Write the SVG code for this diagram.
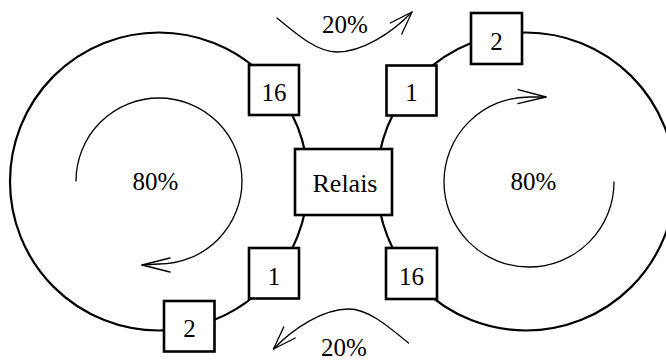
<svg xmlns="http://www.w3.org/2000/svg" xmlns:xlink="http://www.w3.org/1999/xlink" width="666" height="360" viewBox="0 0 666 360" font-family="'Liberation Serif', 'DejaVu Serif', 'Times New Roman', serif">
  <style>
    .ring { fill: none; stroke: #000; stroke-width: 2.2; }
    .flow { fill: none; stroke: #000; stroke-width: 1.3; stroke-linecap: round; stroke-linejoin: round; }
    .box { fill: #fff; stroke: #000; stroke-width: 2.6; }
    text { font-family: 'Liberation Serif', 'DejaVu Serif', 'Times New Roman', serif; font-size: 25px; fill: #000; text-anchor: middle; }
    text.big { font-size: 26px; }
  </style>
  <defs>
    <!-- open arrowheads, tip at the origin, pointing along +x -->
    <path id="head" class="flow" d="M-23,-8 L0,0 L-23,8"/>
    <path id="headLoop" class="flow" d="M-28,-7 L0,0 L-28,7"/>
  </defs>

  <!-- the two rings joining the stations -->
  <g id="connectors">
    <circle class="ring" cx="159" cy="181.5" r="149"/>
    <circle class="ring" cx="526" cy="181.5" r="149"/>
  </g>

  <!-- circulating shares inside each ring and the exchange between rings -->
  <g id="flows">
    <path class="flow" d="M76,181 A83,83 0 1 1 159,264 L142,265"/>
    <use xlink:href="#headLoop" transform="translate(142,265) rotate(180)"/>
    <text x="155.5" y="190">80%</text>

    <path class="flow" d="M614,182 A85,85 0 1 1 529,97 L546,97"/>
    <use xlink:href="#headLoop" transform="translate(546,97) rotate(1)"/>
    <text x="533.5" y="190">80%</text>

    <path class="flow" d="M277,18 C300,37 318,52 337,52 C362,52 392,33 412,12"/>
    <use xlink:href="#head" transform="translate(412,12) rotate(-46)"/>
    <text x="345" y="33">20%</text>

    <path class="flow" d="M408.5,343 C385.5,324 367.5,309 348.5,309 C323.5,309 293.5,328 273.5,349"/>
    <use xlink:href="#head" transform="translate(273.5,349) rotate(134)"/>
    <text x="344" y="355.5">20%</text>
  </g>

  <g id="relais">
    <rect class="box" x="295" y="149" width="97" height="66"/>
    <text class="big" x="345" y="192">Relais</text>
  </g>
  <g id="node-16-top">
    <rect class="box" x="249" y="65" width="50" height="50"/>
    <text x="274" y="101">16</text>
  </g>
  <g id="node-1-top">
    <rect class="box" x="386.5" y="65.5" width="50" height="50"/>
    <text x="411.5" y="101">1</text>
  </g>
  <g id="node-2-top">
    <rect class="box" x="471" y="13" width="51" height="51"/>
    <text x="496.5" y="49.5">2</text>
  </g>
  <g id="node-1-bottom">
    <rect class="box" x="249" y="248" width="50" height="50.5"/>
    <text x="274" y="285">1</text>
  </g>
  <g id="node-2-bottom">
    <rect class="box" x="164" y="301" width="50.5" height="50.5"/>
    <text x="189.5" y="337">2</text>
  </g>
  <g id="node-16-bottom">
    <rect class="box" x="386" y="248" width="51" height="51"/>
    <text x="411.5" y="285">16</text>
  </g>
</svg>
